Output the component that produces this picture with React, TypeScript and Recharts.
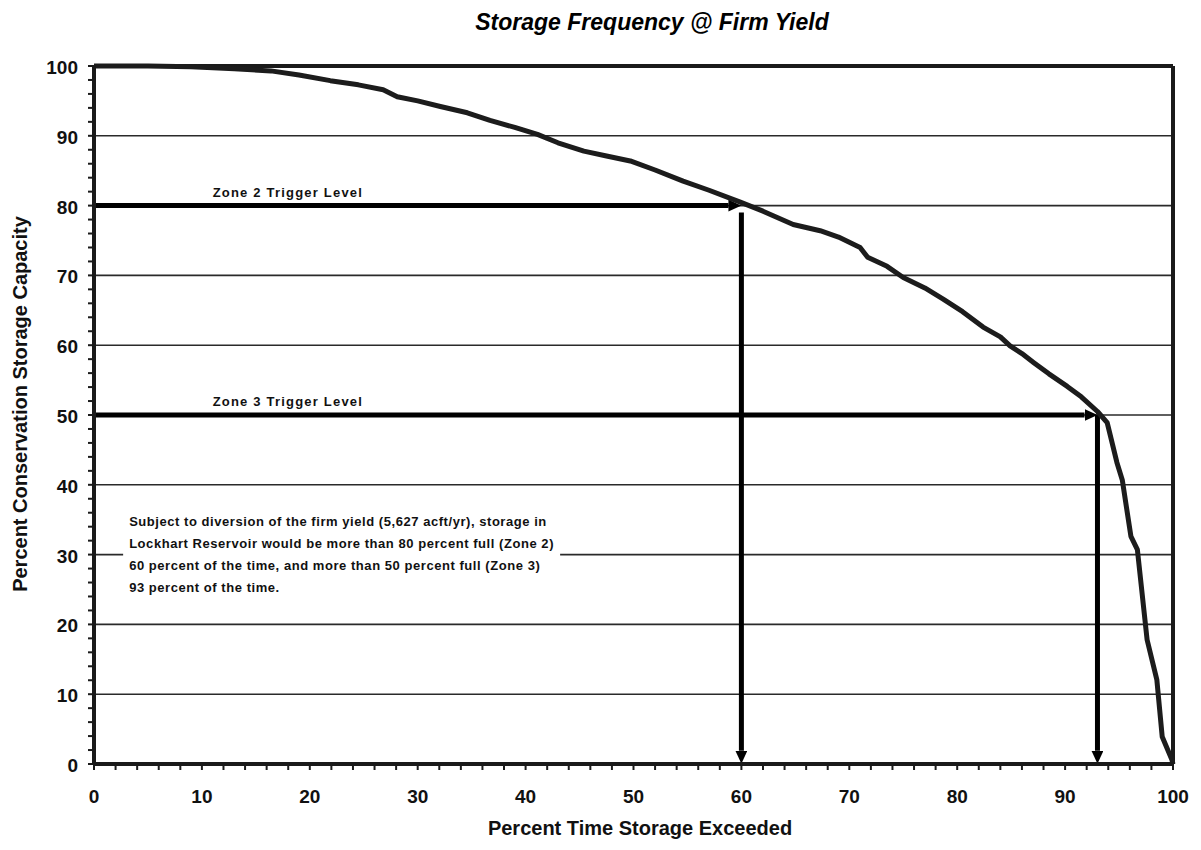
import React from "react";
import {
  LineChart,
  Line,
  XAxis,
  YAxis,
  CartesianGrid,
  ReferenceLine,
  ReferenceArea,
  ReferenceDot,
} from "recharts";

// percent of time storage exceeded (x) vs percent of conservation storage (y)
const exceedPct = [
  0, 5, 9, 13, 16.4, 19, 21.9, 24.5, 26.8, 28.1, 30, 32.1, 34.6, 36.7, 39, 41.1,
  43, 45.4, 47.5, 49.7, 52, 54.6, 57, 59.9, 62, 64.8, 67.3, 69, 71, 71.7, 73.5,
  75, 77, 78.7, 80.5, 82.4, 84, 84.9, 86, 87.1, 88.5, 90.2, 91.5, 93, 93.9, 94.8,
  95.3, 96.1, 96.7, 97.6, 98.5, 99, 99.9, 100,
];
const storagePct = [
  100, 100, 99.9, 99.6, 99.3, 98.7, 97.9, 97.3, 96.6, 95.6, 95, 94.2, 93.3, 92.2,
  91.2, 90.2, 89, 87.8, 87.1, 86.4, 85.1, 83.5, 82.2, 80.5, 79.2, 77.3, 76.4,
  75.5, 74, 72.6, 71.3, 69.7, 68.2, 66.6, 64.8, 62.6, 61.2, 59.9, 58.8, 57.5,
  55.9, 54.1, 52.6, 50.5, 48.9, 43.2, 40.7, 32.6, 30.7, 17.8, 12.1, 3.9, 0.6, 0,
];

const allTicks = [
  0, 2, 4, 6, 8, 10, 12, 14, 16, 18, 20, 22, 24, 26, 28, 30, 32, 34, 36, 38, 40,
  42, 44, 46, 48, 50, 52, 54, 56, 58, 60, 62, 64, 66, 68, 70, 72, 74, 76, 78, 80,
  82, 84, 86, 88, 90, 92, 94, 96, 98, 100,
];
const gridLevels = [10, 20, 30, 40, 50, 60, 70, 80, 90];

const zoneLevels = [80, 50];
const zoneExceed = [60, 93];
const zoneNames = ["Zone 2 Trigger Level", "Zone 3 Trigger Level"];
const noteLines = [
  "Subject to diversion of the firm yield (5,627 acft/yr), storage in",
  "Lockhart Reservoir would be more than 80 percent full (Zone 2)",
  "60 percent of the time, and more than 50 percent full (Zone 3)",
  "93 percent of the time.",
];

const data = exceedPct.map((x, i) => ({ x, y: storagePct[i] }));

const FONT = "'Liberation Sans', Arial, sans-serif";
// gap left for the arrow head (in axis units)
const GAP_X = 1.2;
const GAP_Y = 1.9;

const arrowShape = (props: any) => (
  <line
    x1={props.x1}
    y1={props.y1}
    x2={props.x2}
    y2={props.y2}
    stroke="#000"
    strokeWidth={5}
    markerEnd="url(#arrowHead)"
  />
);

const XTick = (props: any) => {
  const { x, y, payload } = props;
  if (payload.value % 10 !== 0) return <g />;
  return (
    <text x={x} y={y} dy={33} textAnchor="middle" fontFamily={FONT} fontWeight="bold" fontSize={19} fill="#111">
      {payload.value}
    </text>
  );
};

const YTick = (props: any) => {
  const { x, y, payload } = props;
  if (payload.value % 10 !== 0) return <g />;
  return (
    <text x={x - 10} y={y} dy={8} textAnchor="end" fontFamily={FONT} fontWeight="bold" fontSize={19} fill="#111">
      {payload.value}
    </text>
  );
};

const zoneLabel = (name: string) => (props: any) => {
  const vb = props.viewBox;
  return (
    <text x={vb.x} y={vb.y - 9} fontFamily={FONT} fontWeight="bold" fontSize={13} letterSpacing={1.2} fill="#111">
      {name}
    </text>
  );
};

const noteLabel = (props: any) => {
  const vb = props.viewBox;
  return (
    <text fontFamily={FONT} fontWeight="bold" fontSize={13} letterSpacing={0.55} fill="#111">
      {noteLines.map((l, i) => (
        <tspan key={i} x={vb.x + 6} y={vb.y + 27 + i * 21.7}>
          {l}
        </tspan>
      ))}
    </text>
  );
};

export default function App() {
  return (
    <div style={{ position: "absolute", left: 0, top: 0, width: 1201, height: 850, background: "#fff" }}>
      <svg width={0} height={0} style={{ position: "absolute" }}>
        <defs>
          <marker
            id="arrowHead"
            markerUnits="userSpaceOnUse"
            markerWidth={13}
            markerHeight={12}
            viewBox="0 0 13 12"
            refX={0}
            refY={6}
            orient="auto"
          >
            <path d="M0,0 L13,6 L0,12 z" fill="#000" />
          </marker>
        </defs>
      </svg>

      <div
        style={{
          position: "absolute",
          left: 652,
          top: 22,
          transform: "translate(-50%, -50%)",
          fontFamily: FONT,
          fontWeight: "bold",
          fontStyle: "italic",
          fontSize: 23,
          whiteSpace: "nowrap",
          color: "#000",
        }}
      >
        Storage Frequency @ Firm Yield
      </div>

      <div
        style={{
          position: "absolute",
          left: 20,
          top: 404,
          transform: "translate(-50%, -50%) rotate(-90deg)",
          fontFamily: FONT,
          fontWeight: "bold",
          fontSize: 20,
          whiteSpace: "nowrap",
          color: "#111",
        }}
      >
        Percent Conservation Storage Capacity
      </div>

      <div
        style={{
          position: "absolute",
          left: 640,
          top: 828,
          transform: "translate(-50%, -50%)",
          fontFamily: FONT,
          fontWeight: "bold",
          fontSize: 20,
          whiteSpace: "nowrap",
          color: "#111",
        }}
      >
        Percent Time Storage Exceeded
      </div>

      <div style={{ position: "absolute", left: 0, top: 0 }}>
        <LineChart width={1201} height={850} data={data} margin={{ top: 66, right: 28, left: 0, bottom: 46 }}>
          <CartesianGrid vertical={false} horizontalValues={gridLevels} stroke="#2a2a2a" strokeWidth={1.6} />
          <XAxis
            type="number"
            dataKey="x"
            domain={[0, 100]}
            ticks={allTicks}
            interval={0}
            height={40}
            tickSize={6}
            tickMargin={0}
            axisLine={{ stroke: "#1a1a1a", strokeWidth: 4 }}
            tickLine={{ stroke: "#1a1a1a", strokeWidth: 2 }}
            tick={XTick}
          />
          <YAxis
            type="number"
            domain={[0, 100]}
            ticks={allTicks}
            interval={0}
            width={94}
            tickSize={6}
            tickMargin={0}
            axisLine={{ stroke: "#1a1a1a", strokeWidth: 4 }}
            tickLine={{ stroke: "#1a1a1a", strokeWidth: 2 }}
            tick={YTick}
          />
          <ReferenceLine y={100} stroke="#1a1a1a" strokeWidth={4} />
          <ReferenceLine x={100} stroke="#1a1a1a" strokeWidth={4} />

          <ReferenceArea x1={2.7} x2={43.2} y1={23.5} y2={37.9} fill="#fff" fillOpacity={1} stroke="none" label={noteLabel} />

          {zoneLevels.map((lvl, i) => (
            <ReferenceLine
              key={"h" + i}
              segment={[
                { x: 0, y: lvl },
                { x: zoneExceed[i] - GAP_X, y: lvl },
              ]}
              shape={arrowShape}
            />
          ))}
          {zoneLevels.map((lvl, i) => (
            <ReferenceLine
              key={"v" + i}
              segment={[
                { x: zoneExceed[i], y: i === 0 ? lvl - 1 : lvl },
                { x: zoneExceed[i], y: GAP_Y },
              ]}
              shape={arrowShape}
            />
          ))}
          {zoneLevels.map((lvl, i) => (
            <ReferenceDot key={"d" + i} x={11} y={lvl} r={0} stroke="none" fill="none" label={zoneLabel(zoneNames[i])} />
          ))}

          <Line
            type="linear"
            dataKey="y"
            stroke="#1c1c1c"
            strokeWidth={5}
            strokeLinejoin="round"
            dot={false}
            isAnimationActive={false}
          />
        </LineChart>
      </div>
    </div>
  );
}
